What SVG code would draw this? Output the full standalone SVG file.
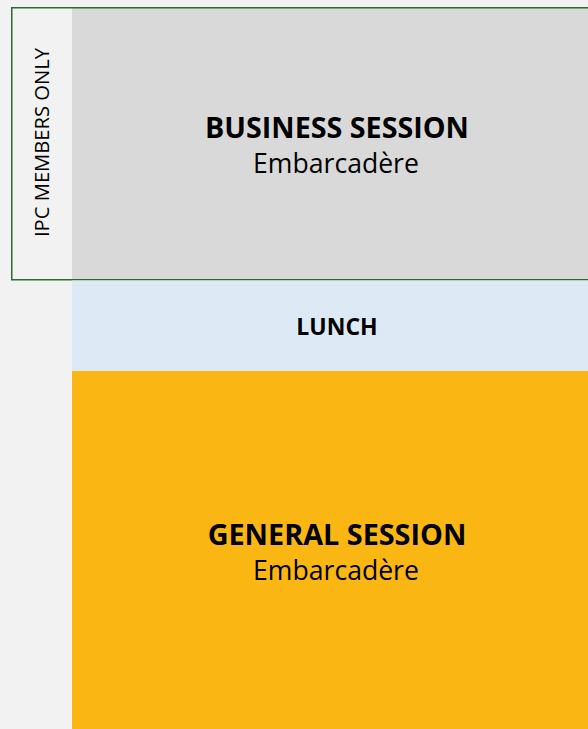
<svg xmlns="http://www.w3.org/2000/svg" width="588" height="729" viewBox="0 0 588 729">
<style>
.t{font-family:"Open Sans","Noto Sans","Liberation Sans",sans-serif;fill:#000;text-anchor:middle}
.b{font-weight:bold}
</style>
<rect x="0" y="0" width="588" height="729" fill="#f2f2f2"/>
<g id="business">
<rect x="72" y="8" width="516" height="272" fill="#d9d9d9"/>
<text class="t b" x="337" y="138" font-size="28.7">BUSINESS SESSION</text>
<text class="t" x="336" y="173" font-size="26.6">Embarcadère</text>
</g>
<g id="ipc">
<rect x="11.75" y="7.75" width="600" height="272" fill="none" stroke="#2a6a32" stroke-width="1.5"/>
<text class="t" transform="translate(49,142.5) rotate(-90)" font-size="20.2">IPC MEMBERS ONLY</text>
</g>
<g id="lunch">
<rect x="72" y="280.5" width="516" height="90.5" fill="#dde9f5"/>
<text class="t b" x="337" y="335" font-size="23">LUNCH</text>
</g>
<g id="general">
<rect x="72" y="371" width="516" height="358" fill="#fab713"/>
<text class="t b" x="337" y="544.5" font-size="28.8">GENERAL SESSION</text>
<text class="t" x="336" y="580" font-size="26.6">Embarcadère</text>
</g>
<g id="connectors"/>
</svg>
